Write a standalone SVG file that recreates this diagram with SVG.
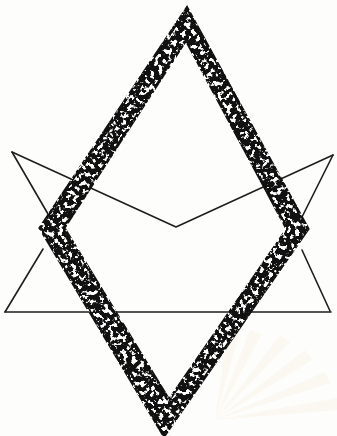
<svg xmlns="http://www.w3.org/2000/svg" width="337" height="436" viewBox="0 0 337 436">
  <defs>
    <style>
      .thin { fill: none; stroke: #1e1e1e; stroke-width: 1.6; stroke-linecap: round; stroke-linejoin: round; }
      .ray { fill: #f7efd6; opacity: 0.3; }
    </style>
    <filter id="grain" x="-5%" y="-5%" width="110%" height="110%" color-interpolation-filters="sRGB">
      <feTurbulence type="fractalNoise" baseFrequency="0.22" numOctaves="3" seed="7" result="n"/>
      <feColorMatrix in="n" type="matrix" values="0 0 0 0 0  0 0 0 0 0  0 0 0 0 0  12 0 0 0 -4.7" result="m"/>
      <feComposite in="SourceGraphic" in2="m" operator="in"/>
    </filter>
    <filter id="grain2" x="-5%" y="-5%" width="110%" height="110%" color-interpolation-filters="sRGB">
      <feTurbulence type="fractalNoise" baseFrequency="0.3" numOctaves="2" seed="3" result="n"/>
      <feColorMatrix in="n" type="matrix" values="0 0 0 0 0  0 0 0 0 0  0 0 0 0 0  10 0 0 0 -3.5" result="m"/>
      <feComposite in="SourceGraphic" in2="m" operator="in"/>
    </filter>
  </defs>
  <rect width="337" height="436" fill="#fdfdfc"/>
  <g id="watermark">
    <polygon class="ray" points="215,420 250,330 262,334"/>
    <polygon class="ray" points="215,420 280,335 290,342"/>
    <polygon class="ray" points="215,420 305,350 312,360"/>
    <polygon class="ray" points="215,420 325,372 330,383"/>
    <polygon class="ray" points="215,420 337,398 337,410"/>
    <polygon class="ray" points="215,420 228,330 240,330"/>
  </g>
  <g id="connectors">
    <polyline class="thin" points="12,152 176,227 333,155"/>
    <line class="thin" x1="12" y1="152" x2="48" y2="214"/>
    <line class="thin" x1="43" y1="249" x2="5" y2="312"/>
    <line class="thin" x1="5" y1="312" x2="331" y2="312"/>
    <line class="thin" x1="333" y1="155" x2="302" y2="217"/>
    <line class="thin" x1="302" y1="250" x2="330" y2="311"/>
  </g>
  <g id="diamond">
    <path d="M187,8 L308,229 L164,436 L40,228 Z M186,40 L64,228 L169,400 L287,229 Z" fill="#fdfdfc" fill-rule="evenodd"/>
    <path d="M187,8 L308,229 L164,436 L40,228 Z M186,40 L64,228 L169,400 L287,229 Z" fill="#111" fill-rule="evenodd" filter="url(#grain)"/>
    <path d="M187,8 L308,229 L164,436 L40,228 Z M186,40 L64,228 L169,400 L287,229 Z" fill="none" stroke="#111" stroke-width="3" filter="url(#grain2)"/>
  </g>
</svg>
